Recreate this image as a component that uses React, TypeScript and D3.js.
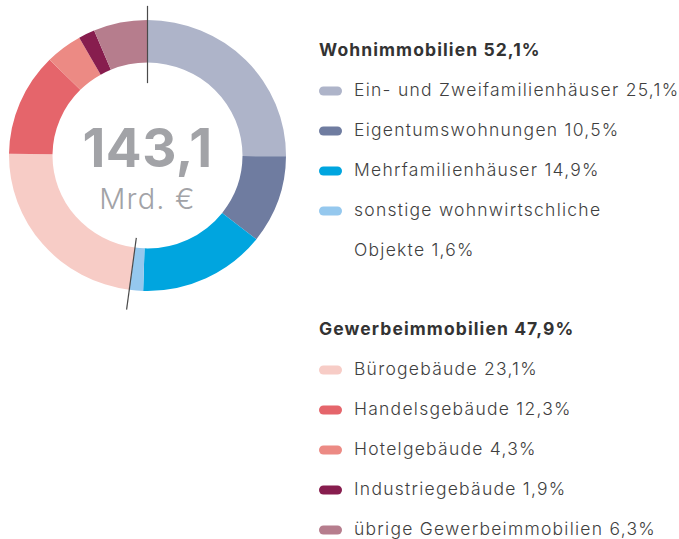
import React from "react";
import * as d3 from "d3";

const wohnNames = [
  "Ein- und Zweifamilienhäuser",
  "Eigentumswohnungen",
  "Mehrfamilienhäuser",
  "sonstige wohnwirtschliche\nObjekte",
];
const wohnValues = [25.1, 10.5, 14.9, 1.6];
const wohnColors = ["#aeb4c9", "#6f7ca0", "#00a5df", "#95c8ee"];

const gewerbeNames = [
  "Bürogebäude",
  "Handelsgebäude",
  "Hotelgebäude",
  "Industriegebäude",
  "übrige Gewerbeimmobilien",
];
const gewerbeValues = [23.1, 12.3, 4.3, 1.9, 6.3];
const gewerbeColors = ["#f7ccc6", "#e5656b", "#ec8a84", "#871d4e", "#b67d8d"];

const groupTitles = ["Wohnimmobilien 52,1%", "Gewerbeimmobilien 47,9%"];
const totalLabel = "143,1";
const unitLabel = "Mrd. €";

const fmt = (v: number) => v.toFixed(1).replace(".", ",") + "%";

const FONT = "Inter, 'Noto Sans', sans-serif";

export default function App() {
  const width = 679;
  const height = 539;
  const cx = 147.5;
  const cy = 155.5;
  const outerR = 138.5;
  const innerR = 95;
  const squash = 0.978;

  const values = [...wohnValues, ...gewerbeValues];
  const colors = [...wohnColors, ...gewerbeColors];

  const pie = d3
    .pie<number>()
    .sort(null)
    .value((d) => d)
    .startAngle(0)
    .endAngle(2 * Math.PI);
  const arcs = pie(values);
  const arc = d3.arc<d3.PieArcDatum<number>>().innerRadius(innerR).outerRadius(outerR);

  // group dividers: start of ring, and end of the Wohn group
  const dividers = [
    { angle: arcs[0].startAngle, r0: 74, r1: 153 },
    { angle: arcs[wohnValues.length - 1].endAngle, r0: 85, r1: 159 },
  ];

  const rowH = 40;
  const swX = 319;
  const textX = 354;

  const renderGroup = (
    title: string,
    names: string[],
    vals: number[],
    cols: string[],
    titleY: number
  ) => {
    let row = 0;
    const items: JSX.Element[] = [];
    names.forEach((name, i) => {
      const lines = name.split("\n");
      const y = titleY + rowH * (row + 1);
      items.push(
        <rect
          key={`sw-${i}`}
          x={swX}
          y={y - 9.5}
          width={23}
          height={9}
          rx={4.5}
          fill={cols[i]}
        />
      );
      lines.forEach((ln, j) => {
        const last = j === lines.length - 1;
        items.push(
          <text
            key={`t-${i}-${j}`}
            x={textX}
            y={titleY + rowH * (row + 1)}
            fontSize={17.5}
            fontWeight={300}
            letterSpacing={1.25}
            fill="#3f3f3f"
            fontFamily={FONT}
          >
            {last ? `${ln} ${fmt(vals[i])}` : ln}
          </text>
        );
        row++;
      });
    });
    return (
      <g>
        <text
          x={swX}
          y={titleY}
          fontSize={17.5}
          fontWeight={700}
          letterSpacing={1.1}
          fill="#333333"
          fontFamily={FONT}
        >
          {title}
        </text>
        {items}
      </g>
    );
  };

  return (
    <svg
      width={width}
      height={height}
      style={{ position: "absolute", left: 0, top: 0, background: "#ffffff" }}
    >
      <g transform={`translate(${cx},${cy}) scale(1,${squash})`}>
        {arcs.map((a, i) => (
          <path key={i} d={arc(a) || ""} fill={colors[i]} />
        ))}
        {dividers.map((d, i) => (
          <line
            key={`div-${i}`}
            x1={Math.sin(d.angle) * d.r0}
            y1={-Math.cos(d.angle) * d.r0}
            x2={Math.sin(d.angle) * d.r1}
            y2={-Math.cos(d.angle) * d.r1}
            stroke="#4a4a4a"
            strokeWidth={1.2}
            vectorEffect="non-scaling-stroke"
          />
        ))}
      </g>
      <text
        x={cx}
        y={167}
        textAnchor="middle"
        fontSize={53}
        fontWeight={700}
        fill="#a2a3a7"
        letterSpacing={0.5}
        fontFamily={FONT}
      >
        {totalLabel}
      </text>
      <text
        x={cx}
        y={209}
        textAnchor="middle"
        fontSize={29}
        fontWeight={300}
        fill="#a2a3a7"
        letterSpacing={1.2}
        fontFamily={FONT}
      >
        {unitLabel}
      </text>
      {renderGroup(groupTitles[0], wohnNames, wohnValues, wohnColors, 56)}
      {renderGroup(groupTitles[1], gewerbeNames, gewerbeValues, gewerbeColors, 335)}
    </svg>
  );
}
